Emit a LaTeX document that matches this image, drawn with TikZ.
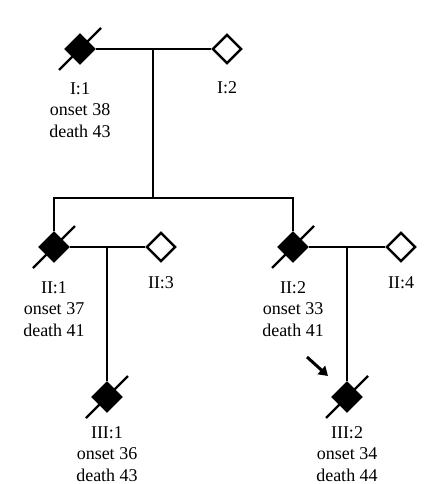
\documentclass[tikz,border=0pt]{standalone}
\usepackage{fontspec}
\setmainfont{Liberation Serif}
\usetikzlibrary{shapes.geometric,arrows.meta,calc}
\tikzset{
  person/.style={diamond,aspect=1,inner sep=0pt,minimum width=29pt,minimum height=29pt,draw=black,line width=2.4pt},
  affected/.style={person,fill=black},
  healthy/.style={person,fill=white},
  rel/.style={line width=2pt,draw=black},
  slash/.style={line width=2.2pt,draw=black},
  lbl/.style={align=center,font=\fontsize{18}{21.5}\selectfont,inner sep=0pt},
  proband/.style={line width=3pt,-{Triangle[length=9pt,width=11pt]}}
}
\begin{document}
\begin{tikzpicture}[x=1pt,y=-1pt]
\useasboundingbox (0,0) rectangle (423,484);
% generation I
\node[affected] (i1) at (80,49) {};
\node[healthy] (i2) at (227,49) {};
% generation II
\node[affected] (ii1) at (54,247) {};
\node[healthy] (ii3) at (161,247) {};
\node[affected] (ii2) at (293,247) {};
\node[healthy] (ii4) at (401,247) {};
% generation III
\node[affected] (iii1) at (107,397) {};
\node[affected] (iii2) at (347,397) {};
% coordinates
\coordinate (m1) at (153,49);
\coordinate (s1) at (153,198);
\coordinate (m2) at (107,247);
\coordinate (m3) at (347,247);
\coordinate (pa) at (307,357);
\coordinate (pb) at (328,376);
% connectors
\draw[rel] (i1.east) -- (i2.west);
\draw[rel] (m1) -- (s1);
\draw[rel] (ii1.north) |- (s1) -| (ii2.north);
\draw[rel] (ii1.east) -- (ii3.west);
\draw[rel] (ii2.east) -- (ii4.west);
\draw[rel] (m2) -- (iii1.north);
\draw[rel] (m3) -- (iii2.north);
% re-draw symbols on top
\node[affected] at (i1) {};
\node[healthy] at (i2) {};
\node[affected] at (ii1) {};
\node[healthy] at (ii3) {};
\node[affected] at (ii2) {};
\node[healthy] at (ii4) {};
\node[affected] at (iii1) {};
\node[affected] at (iii2) {};
% deceased slashes
\foreach \p in {i1,ii1,ii2,iii1,iii2}{
  \draw[slash] ($(\p)+(-21pt,-21pt)$) -- ($(\p)+(21pt,21pt)$);
}
% proband arrow
\draw[proband] (pa) -- (pb);
% labels
\node[lbl] (l1) at (80,110) {I:1\\onset 38\\death 43};
\node[lbl] (l2) at (227,88) {I:2};
\node[lbl] (l3) at (54,309) {II:1\\onset 37\\death 41};
\node[lbl] (l4) at (161,283) {II:3};
\node[lbl] (l5) at (293,309) {II:2\\onset 33\\death 41};
\node[lbl] (l6) at (401,283) {II:4};
\node[lbl] (l7) at (107,454) {III:1\\onset 36\\death 43};
\node[lbl] (l8) at (347,454) {III:2\\onset 34\\death 44};
\end{tikzpicture}
\end{document}
